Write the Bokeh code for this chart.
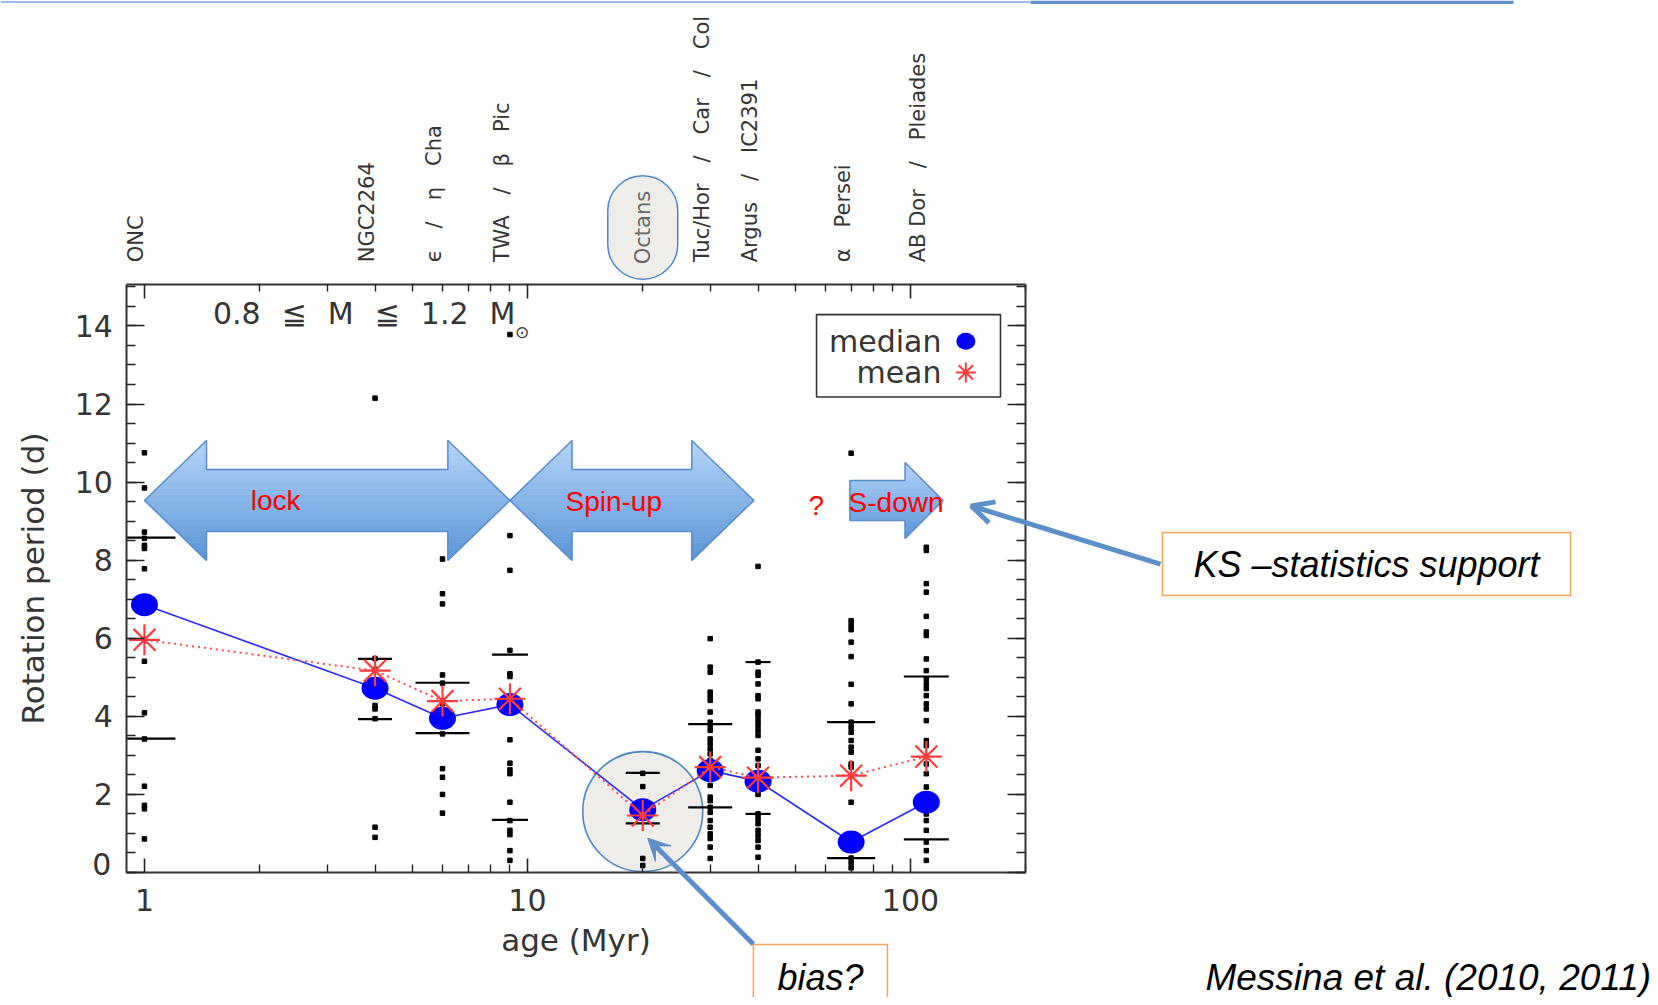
import math
import numpy as np
from bokeh.plotting import figure
from bokeh.models import (LinearAxis, LogAxis, FixedTicker, Label, BoxAnnotation,
                          Arrow, OpenHead, VeeHead, Range1d)
from bokeh.embed import file_html
from bokeh.resources import INLINE

# ---- data ----
SP = "\u2003"
groups = ["ONC", "NGC2264", f"\u03f5{SP}/{SP}\u03b7{SP}Cha", f"TWA{SP}/{SP}\u03b2{SP}Pic", "Octans",
          f"Tuc/Hor{SP}/{SP}Car{SP}/{SP}Col", f"Argus{SP}/{SP}IC2391", f"\u03b1{SP}Persei",
          f"AB Dor{SP}/{SP}Pleiades"]
ages = [1.0, 4.0, 6.0, 9.0, 20.0, 30.0, 40.0, 70.0, 110.0]
median_p = [6.86, 4.72, 3.95, 4.30, 1.61, 2.61, 2.34, 0.78, 1.80]
mean_p = [5.96, 5.17, 4.39, 4.45, 1.46, 2.70, 2.43, 2.48, 2.97]
upper_q = [8.58, 5.47, 4.86, 5.58, 2.55, 3.80, 5.39, 3.85, 5.02]
lower_q = [3.43, 3.93, 3.57, 1.35, 1.26, 1.67, 1.50, 0.37, 0.85]

p_onc = [10.75, 9.85, 8.72, 8.56, 8.38, 8.30, 7.78, 5.41, 4.09, 3.42, 2.21, 1.72, 1.63, 0.86]
p_ngc = [12.15, 5.48, 5.20, 4.28, 4.19, 3.94, 1.16, 0.90]
p_cha = [8.03, 7.14, 6.88, 5.06, 4.85, 4.32, 3.95, 3.55, 2.66, 2.44, 2.00, 1.52]
p_twa = [13.78, 8.63, 7.74, 5.69, 5.09, 5.02, 4.45, 3.40, 2.80, 2.63, 2.53, 1.80, 1.33,
         1.08, 0.97, 0.56, 0.31]
p_oct = [2.54, 2.20, 1.77, 1.55, 1.42, 0.36, 0.18]
p_tuc = [5.99, 5.26, 5.13, 4.62, 4.53, 4.41, 4.11, 3.85, 3.77, 3.64, 3.42, 3.30, 3.17, 3.04,
         2.87, 2.70, 2.23, 1.93, 1.84, 1.67, 1.54, 1.33, 1.16, 0.99, 0.87, 0.65, 0.36]
p_arg = [7.84, 5.39, 5.13, 5.05, 4.83, 4.53, 4.45, 4.11, 4.02, 3.89, 3.77, 3.64, 3.51, 3.13,
         2.91, 2.74, 2.20, 2.00, 1.50, 1.38, 1.25, 1.08, 0.95, 0.82, 0.65, 0.39]
p_per = [10.74, 6.45, 6.33, 6.22, 5.90, 5.53, 4.82, 4.32, 3.85, 3.72, 3.59, 3.38, 3.21, 3.08,
         2.78, 2.70, 1.80, 0.65, 0.37, 0.25, 0.12]
p_abd = [8.33, 8.25, 7.40, 7.18, 6.56, 6.16, 6.07, 5.47, 5.17, 4.96, 4.83, 4.71, 4.53, 4.32,
         4.19, 3.89, 3.38, 3.25, 2.78, 2.53, 2.19, 1.93, 1.50, 1.33, 1.08, 0.78, 0.56, 0.31]
periods = [p_onc, p_ngc, p_cha, p_twa, p_oct, p_tuc, p_arg, p_per, p_abd]

x_ticks = [1, 10, 100]
x_tick_labels = ["1", "10", "100"]
x_minor = [2, 3, 4, 5, 6, 7, 8, 9, 20, 30, 40, 50, 60, 70, 80, 90, 200]
y_ticks = [0, 2, 4, 6, 8, 10, 12, 14]
y_minor = [k / 2 for k in range(0, 31)]
X_LIM = (0.9, 200)
Y_LIM = (0, 15.05)

# phases: (label, start age, end age, double headed)
phases = [("lock", 1.0, 9.0, True), ("Spin-up", 9.0, 39.0, True), ("S-down", 69.5, 121.6, False)]

IDL_FONT = "DejaVu Sans"
INK = "#353535"
PX_DEC = 383.0   # screen px per decade of age, used for px offsets on the log axis

# the whole slide is one frame; the IDL box is drawn with fixed-location axes
p = figure(x_axis_type="log", width=1650, height=997, min_border=0,
           x_range=Range1d(0.4209, 8553), y_range=Range1d(-3.202, 22.336),
           x_axis_location=None, y_axis_location=None,
           output_backend="svg", toolbar_location=None)
p.xgrid.visible = False
p.ygrid.visible = False
p.outline_line_color = None
p.background_fill_color = "white"
p.border_fill_color = "white"


def style_axis(ax, tick_in, minor_in, labels=True):
    ax.axis_line_color = "#333333"
    ax.axis_line_width = 2
    ax.major_tick_in = tick_in
    ax.major_tick_out = 0
    ax.minor_tick_in = minor_in
    ax.minor_tick_out = 0
    ax.major_tick_line_color = "#222222"
    ax.major_tick_line_width = 1.6
    ax.minor_tick_line_color = "#222222"
    ax.minor_tick_line_width = 1.4
    ax.major_label_text_font = IDL_FONT
    ax.major_label_text_font_size = "30px"
    ax.major_label_text_color = INK
    ax.axis_label_text_font = IDL_FONT
    ax.axis_label_text_font_size = "31px"
    ax.axis_label_text_font_style = "normal"
    ax.axis_label_text_color = INK
    if not labels:
        ax.major_label_text_alpha = 0


bottom = LogAxis(ticker=FixedTicker(ticks=x_ticks, minor_ticks=x_minor),
                 fixed_location=Y_LIM[0], bounds=X_LIM, axis_label="age (Myr)",
                 major_label_overrides=dict(zip(x_ticks, x_tick_labels)))
style_axis(bottom, 14, 8)
bottom.major_label_standoff = 17
bottom.axis_label_standoff = 7
p.add_layout(bottom, "below")

top = LogAxis(ticker=FixedTicker(ticks=x_ticks, minor_ticks=x_minor),
              fixed_location=Y_LIM[1], bounds=X_LIM)
style_axis(top, 14, 7, labels=False)
p.add_layout(top, "above")

left = LinearAxis(ticker=FixedTicker(ticks=y_ticks, minor_ticks=y_minor),
                  fixed_location=X_LIM[0], bounds=Y_LIM, axis_label="Rotation period (d)",
                  major_label_overrides={0: ""})
style_axis(left, 18, 9)
left.major_label_standoff = 14
left.axis_label_standoff = 20
p.add_layout(left, "left")

right = LinearAxis(ticker=FixedTicker(ticks=y_ticks, minor_ticks=y_minor),
                   fixed_location=X_LIM[1], bounds=Y_LIM)
style_axis(right, 18, 9, labels=False)
p.add_layout(right, "right")

# the "0" label sits just above the bottom axis
p.add_layout(Label(x=0.82, y=0.23, text="0", text_align="right", text_baseline="middle",
                   text_font=IDL_FONT, text_font_size="30px", text_color=INK))

# highlight circle around the Octans point
p.circle(x=[ages[4]], y=[1.56], radius=60, radius_units="screen",
         fill_color="#efedea", line_color="#4f87c3", line_width=1.6)

# individual stars
xs_dots, ys_dots = [], []
for a, vals in zip(ages, periods):
    xs_dots += [a] * len(vals)
    ys_dots += vals
p.scatter(xs_dots, ys_dots, marker="square", size=4.5, color="black")

# quartile bars (half lengths in px, clipped at the left axis)
bar_half = [31, 17, 27, 18, 17, 22, 12.5, 24, 22.5]
bx0 = [max(X_LIM[0], a * 10 ** (-h / PX_DEC)) for a, h in zip(ages, bar_half)]
bx1 = [a * 10 ** (h / PX_DEC) for a, h in zip(ages, bar_half)]
p.segment(bx0, upper_q, bx1, upper_q, line_color="black", line_width=2.2)
p.segment(bx0, lower_q, bx1, lower_q, line_color="black", line_width=2.2)

# median and mean
p.line(ages, median_p, line_color="#2b2bff", line_width=1.6)
p.ellipse(ages, median_p, width=27, height=23, width_units="screen", height_units="screen",
          fill_color="#0000ff", line_color=None)
p.line(ages, mean_p, line_color="#ff4a4a", line_width=2, line_dash="2 4")
p.scatter(ages, mean_p, marker="asterisk", size=31, line_color="#ff3b3b", line_width=2.2)


# big phase arrows with a vertical colour gradient
def mix(c0, c1, t):
    a = [int(c0[i:i + 2], 16) for i in (1, 3, 5)]
    b = [int(c1[i:i + 2], 16) for i in (1, 3, 5)]
    return "#" + "".join(f"{round(a[k] + (b[k] - a[k]) * t):02x}" for k in range(3))


def phase_arrow(a0, a1, double, yc, hl, hh, sh):
    l0, l1 = math.log10(a0), math.log10(a1)

    def left_e(y):
        return l0 + hl * abs(y - yc) / hh if double else l0

    def right_e(y):
        return l1 - hl * abs(y - yc) / hh

    levels = sorted(set(np.round(np.linspace(yc - hh, yc + hh, 21), 6).tolist()
                        + [yc - sh, yc + sh, yc]))
    sx, sy, sc = [], [], []
    for ya, yb in zip(levels[:-1], levels[1:]):
        ym = (ya + yb) / 2
        col = mix("#b4d4f8", "#5a95d8", (yc + hh - ym) / (2 * hh))
        pieces = []
        if abs(ym - yc) < sh:
            pieces.append([left_e(ya), right_e(ya), right_e(yb), left_e(yb)])
        else:
            if double:
                pieces.append([left_e(ya), l0 + hl, l0 + hl, left_e(yb)])
            pieces.append([l1 - hl, right_e(ya), right_e(yb), l1 - hl])
        for pc in pieces:
            sx.append([10 ** v for v in pc])
            sy.append([ya, ya, yb, yb])
            sc.append(col)
    p.patches(sx, sy, fill_color=sc, line_color=sc, line_width=0.8)
    if double:
        ox = [l0, l0 + hl, l0 + hl, l1 - hl, l1 - hl, l1, l1 - hl, l1 - hl, l0 + hl, l0 + hl]
        oy = [yc, yc + hh, yc + sh, yc + sh, yc + hh, yc, yc - hh, yc - sh, yc - sh, yc - hh]
    else:
        ox = [l0, l1 - hl, l1 - hl, l1, l1 - hl, l1 - hl, l0]
        oy = [yc + sh, yc + sh, yc + hh, yc, yc - hh, yc - sh, yc - sh]
    p.patch([10 ** v for v in ox], oy, fill_color=None, line_color="#5a8cc8", line_width=1.5)


for name, a0, a1, dbl in phases:
    if dbl:
        phase_arrow(a0, a1, True, 9.53, 0.162, 1.537, 0.794)
    else:
        phase_arrow(a0, a1, False, 9.53, 0.099, 0.973, 0.512)

red_txt = dict(text_font="Liberation Sans", text_font_size="28px", text_color="#ff0000",
               text_align="center", text_baseline="middle")
p.add_layout(Label(x=2.2, y=9.53, text=phases[0][0], **red_txt))
p.add_layout(Label(x=16.8, y=9.50, text=phases[1][0], **red_txt))
p.add_layout(Label(x=91.7, y=9.48, text=phases[2][0], **red_txt))
p.add_layout(Label(x=56.8, y=9.40, text="?", **red_txt))

# mass range note
MS = "\u2002\u2009"
p.add_layout(Label(x=1.51, y=14.32, text=f"0.8{MS}\u2266{MS}M{MS}\u2266{MS}1.2{MS}M",
                   text_font=IDL_FONT, text_font_size="30px", text_color=INK,
                   text_baseline="middle"))
p.add_layout(Label(x=9.69, y=13.84, text="\u2299", text_font=IDL_FONT, text_font_size="17px",
                   text_color=INK, text_align="center", text_baseline="middle"))

# legend
p.add_layout(BoxAnnotation(left=56.85, right=171.8, top=14.29, bottom=12.18,
                           fill_color=None, line_color="#333333", line_alpha=1, line_width=1.6))
leg_txt = dict(text_font=IDL_FONT, text_font_size="30px", text_color=INK,
               text_align="right", text_baseline="middle")
p.add_layout(Label(x=120.5, y=13.61, text="median", **leg_txt))
p.add_layout(Label(x=120.5, y=12.81, text="mean", **leg_txt))
p.ellipse([139.5], [13.61], width=19, height=17, width_units="screen", height_units="screen",
          fill_color="#0000ff", line_color=None)
p.scatter([139.5], [12.81], marker="asterisk", size=20, line_color="#ff3b3b", line_width=2)

# group names along the top, set just left of each column
for g, a in zip(groups, ages):
    if g == "Octans":
        p.add_layout(Label(x=a, y=16.52, text=g, angle=math.pi / 2, text_font=IDL_FONT,
                           text_font_size="21px", text_color="#6a6a6a", text_align="center",
                           text_baseline="middle", background_fill_color="#efedea",
                           border_line_color="#4f87c3", border_line_width=1.5,
                           padding=(15, 23), border_radius=36))
    else:
        p.add_layout(Label(x=a * 10 ** (-8 / PX_DEC), y=15.63, text=g, angle=math.pi / 2,
                           text_font=IDL_FONT, text_font_size="21px", text_color=INK,
                           text_align="left", text_baseline="middle"))

# call-outs
box_txt = dict(text_font="Liberation Sans", text_font_style="italic", text_font_size="36px",
               text_color="black", text_align="center", text_baseline="middle",
               background_fill_color="white", border_line_color="#f7a257", border_line_width=1.5)
p.add_layout(Arrow(x_start=449.5, y_start=7.90, x_end=144.1, y_end=9.39,
                   line_color="#5b8fc9", line_width=5,
                   end=OpenHead(size=22, line_color="#5b8fc9", line_width=5)))
p.add_layout(Label(x=1551, y=7.90, text="KS \u2013statistics support", padding=(31, 11), **box_txt))
p.add_layout(Arrow(x_start=38.9, y_start=-1.84, x_end=20.6, y_end=0.88,
                   line_color="#5b8fc9", line_width=5,
                   end=VeeHead(size=22, fill_color="#5b8fc9", line_color="#5b8fc9")))
p.add_layout(Label(x=58.2, y=-2.70, text="bias?", padding=(24, 13), **box_txt))
p.add_layout(Label(x=589, y=-2.70, text="Messina et al. (2010, 2011)", text_font="Liberation Sans",
                   text_font_style="italic", text_font_size="37px", text_color="black",
                   text_baseline="middle"))

# slide header rule
p.add_layout(Arrow(x_start=0.4209, y_start=22.30, x_end=205.8, y_end=22.30, end=None,
                   line_color="#9dbde2", line_width=2))
p.add_layout(Arrow(x_start=205.8, y_start=22.29, x_end=3753, y_end=22.29, end=None,
                   line_color="#5f90cc", line_width=3.5))

open("out.html", "w").write(file_html(p, INLINE))
